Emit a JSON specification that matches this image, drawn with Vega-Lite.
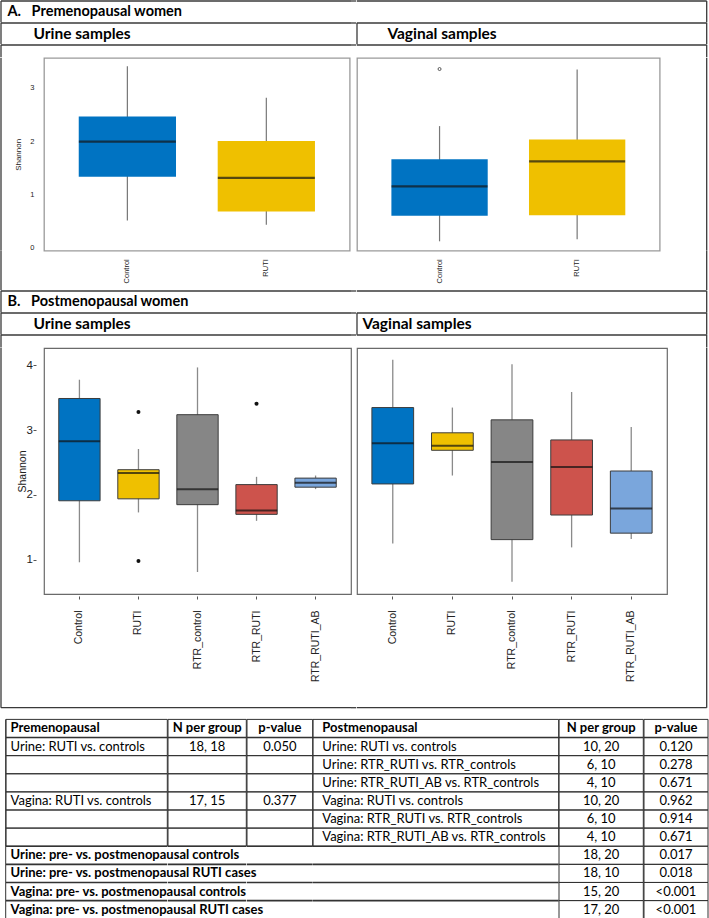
{
  "$schema": "https://vega.github.io/schema/vega-lite/v6.json",
  "padding": 0,
  "background": "white",
  "config": {
    "view": {"stroke": null},
    "text": {"font": "Lato", "color": "black"},
    "axis": {"grid": false}
  },
  "datasets": {
    "boxA_U": [
      {"g": "Control", "lo": 0.51, "q1": 1.33, "med": 1.99, "q3": 2.46, "hi": 3.40},
      {"g": "RUTI", "lo": 0.43, "q1": 0.68, "med": 1.31, "q3": 2.00, "hi": 2.81}
    ],
    "boxA_V": [
      {"g": "Control", "lo": 0.12, "q1": 0.60, "med": 1.15, "q3": 1.66, "hi": 2.28},
      {"g": "RUTI", "lo": 0.16, "q1": 0.61, "med": 1.62, "q3": 2.03, "hi": 3.34}
    ],
    "outA_V": [{"g": "Control", "v": 3.35}],
    "boxB_U": [
      {"g": "Control", "lo": 0.96, "q1": 1.91, "med": 2.83, "q3": 3.49, "hi": 3.78},
      {"g": "RUTI", "lo": 1.73, "q1": 1.94, "med": 2.34, "q3": 2.39, "hi": 2.71},
      {"g": "RTR_control", "lo": 0.81, "q1": 1.85, "med": 2.09, "q3": 3.24, "hi": 3.97},
      {"g": "RTR_RUTI", "lo": 1.60, "q1": 1.70, "med": 1.76, "q3": 2.16, "hi": 2.28},
      {"g": "RTR_RUTI_AB", "lo": 2.09, "q1": 2.12, "med": 2.19, "q3": 2.26, "hi": 2.30}
    ],
    "outB_U": [
      {"g": "RUTI", "v": 3.28},
      {"g": "RUTI", "v": 0.98},
      {"g": "RTR_RUTI", "v": 3.41}
    ],
    "boxB_V": [
      {"g": "Control", "lo": 1.25, "q1": 2.17, "med": 2.80, "q3": 3.35, "hi": 4.09},
      {"g": "RUTI", "lo": 2.30, "q1": 2.69, "med": 2.76, "q3": 2.96, "hi": 3.35},
      {"g": "RTR_control", "lo": 0.66, "q1": 1.31, "med": 2.51, "q3": 3.16, "hi": 4.02},
      {"g": "RTR_RUTI", "lo": 1.19, "q1": 1.69, "med": 2.43, "q3": 2.85, "hi": 3.59},
      {"g": "RTR_RUTI_AB", "lo": 1.32, "q1": 1.41, "med": 1.79, "q3": 2.37, "hi": 3.05}
    ],
    "tab": [
      {"r": 0, "pre": "Premenopausal", "nPre": "N per group", "pPre": "p-value", "post": "Postmenopausal", "nPost": "N per group", "pPost": "p-value"},
      {"r": 1, "pre": "Urine: RUTI vs. controls", "nPre": "18, 18", "pPre": "0.050", "post": "Urine: RUTI vs. controls", "nPost": "10, 20", "pPost": "0.120"},
      {"r": 2, "pre": "", "nPre": "", "pPre": "", "post": "Urine: RTR_RUTI vs. RTR_controls", "nPost": "6, 10", "pPost": "0.278"},
      {"r": 3, "pre": "", "nPre": "", "pPre": "", "post": "Urine: RTR_RUTI_AB vs. RTR_controls", "nPost": "4, 10", "pPost": "0.671"},
      {"r": 4, "pre": "Vagina: RUTI vs. controls", "nPre": "17, 15", "pPre": "0.377", "post": "Vagina: RUTI vs. controls", "nPost": "10, 20", "pPost": "0.962"},
      {"r": 5, "pre": "", "nPre": "", "pPre": "", "post": "Vagina: RTR_RUTI vs. RTR_controls", "nPost": "6, 10", "pPost": "0.914"},
      {"r": 6, "pre": "", "nPre": "", "pPre": "", "post": "Vagina: RTR_RUTI_AB vs. RTR_controls", "nPost": "4, 10", "pPost": "0.671"},
      {"r": 7, "pre": "Urine: pre- vs. postmenopausal controls", "nPre": "", "pPre": "", "post": "", "nPost": "18, 20", "pPost": "0.017"},
      {"r": 8, "pre": "Urine: pre- vs. postmenopausal RUTI cases", "nPre": "", "pPre": "", "post": "", "nPost": "18, 10", "pPost": "0.018"},
      {"r": 9, "pre": "Vagina: pre- vs. postmenopausal controls", "nPre": "", "pPre": "", "post": "", "nPost": "15, 20", "pPost": "<0.001"},
      {"r": 10, "pre": "Vagina: pre- vs. postmenopausal RUTI cases", "nPre": "", "pPre": "", "post": "", "nPost": "17, 20", "pPost": "<0.001"}
    ]
  },
  "spacing": 9.4,
  "vconcat": [
    {
      "columns": 5,
      "bounds": "flush",
      "align": "each",
      "spacing": 0,
      "concat": [
        {"width": 43, "height": 21.4, "data": {"values": [{"t": "A.\u00a0\u00a0\u00a0Premenopausal women"}]},
         "layer": [
           {"mark": {"type": "rule", "color": "#3a3a3a", "strokeWidth": 1.3}, "encoding": {"y": {"value": 0}}},
           {"mark": {"type": "rule", "color": "#3a3a3a", "strokeWidth": 1.3}, "encoding": {"x": {"value": 0}}},
           {"mark": {"type": "text", "align": "left", "fontWeight": "bold", "fontSize": 14.5}, "encoding": {"text": {"field": "t"}, "x": {"value": 6.5}}}
         ]},
        {"width": 307, "height": 21.4, "data": {"values": [{}]}, "mark": {"type": "rule", "color": "#3a3a3a", "strokeWidth": 1.3}, "encoding": {"y": {"value": 0}}},
        {"width": 5.3, "height": 21.4, "data": {"values": [{}]}, "mark": {"type": "rule", "color": "#3a3a3a", "strokeWidth": 1.3}, "encoding": {"y": {"value": 0}}},
        {"width": 310, "height": 21.4, "data": {"values": [{}]}, "mark": {"type": "rule", "color": "#3a3a3a", "strokeWidth": 1.3}, "encoding": {"y": {"value": 0}}},
        {"width": 39.7, "height": 21.4, "data": {"values": [{}]},
         "layer": [
           {"mark": {"type": "rule", "color": "#3a3a3a", "strokeWidth": 1.3}, "encoding": {"y": {"value": 0}}},
           {"mark": {"type": "rule", "color": "#3a3a3a", "strokeWidth": 1.3}, "encoding": {"x": {"value": "width"}}}
         ]},

        {"width": 43, "height": 21.3, "data": {"values": [{"t": "Urine samples"}]},
         "layer": [
           {"mark": {"type": "rule", "color": "#3a3a3a", "strokeWidth": 1.3}, "encoding": {"y": {"value": 0}}},
           {"mark": {"type": "rule", "color": "#3a3a3a", "strokeWidth": 1.3}, "encoding": {"x": {"value": 0}}},
           {"mark": {"type": "text", "align": "left", "fontWeight": "bold", "fontSize": 15.5}, "encoding": {"text": {"field": "t"}, "x": {"value": 32.5}}}
         ]},
        {"width": 307, "height": 21.3, "data": {"values": [{}]}, "mark": {"type": "rule", "color": "#3a3a3a", "strokeWidth": 1.3}, "encoding": {"y": {"value": 0}}},
        {"width": 5.3, "height": 21.3, "data": {"values": [{}]}, "mark": {"type": "rule", "color": "#3a3a3a", "strokeWidth": 1.3}, "encoding": {"y": {"value": 0}}},
        {"width": 310, "height": 21.3, "data": {"values": [{"t": "Vaginal samples"}]},
         "layer": [
           {"mark": {"type": "rule", "color": "#3a3a3a", "strokeWidth": 1.3}, "encoding": {"y": {"value": 0}}},
           {"mark": {"type": "rule", "color": "#3a3a3a", "strokeWidth": 1.3}, "encoding": {"x": {"value": 0}}},
           {"mark": {"type": "text", "align": "left", "fontWeight": "bold", "fontSize": 15.5}, "encoding": {"text": {"field": "t"}, "x": {"value": 30.4}}}
         ]},
        {"width": 39.7, "height": 21.3, "data": {"values": [{}]},
         "layer": [
           {"mark": {"type": "rule", "color": "#3a3a3a", "strokeWidth": 1.3}, "encoding": {"y": {"value": 0}}},
           {"mark": {"type": "rule", "color": "#3a3a3a", "strokeWidth": 1.3}, "encoding": {"x": {"value": "width"}}}
         ]},

        {"width": 43, "height": 12.3, "data": {"values": [{}]},
         "layer": [
           {"mark": {"type": "rule", "color": "#3a3a3a", "strokeWidth": 1.3}, "encoding": {"y": {"value": 0}}},
           {"mark": {"type": "rule", "color": "#3a3a3a", "strokeWidth": 1.3}, "encoding": {"x": {"value": 0}}}
         ]},
        {"width": 307, "height": 12.3, "data": {"values": [{}]}, "mark": {"type": "rule", "color": "#3a3a3a", "strokeWidth": 1.3}, "encoding": {"y": {"value": 0}}},
        {"width": 5.3, "height": 12.3, "data": {"values": [{}]}, "mark": {"type": "rule", "color": "#3a3a3a", "strokeWidth": 1.3}, "encoding": {"y": {"value": 0}}},
        {"width": 310, "height": 12.3, "data": {"values": [{}]}, "mark": {"type": "rule", "color": "#3a3a3a", "strokeWidth": 1.3}, "encoding": {"y": {"value": 0}}},
        {"width": 39.7, "height": 12.3, "data": {"values": [{}]},
         "layer": [
           {"mark": {"type": "rule", "color": "#3a3a3a", "strokeWidth": 1.3}, "encoding": {"y": {"value": 0}}},
           {"mark": {"type": "rule", "color": "#3a3a3a", "strokeWidth": 1.3}, "encoding": {"x": {"value": "width"}}}
         ]},

        {"width": 43, "height": 192.7, "data": {"values": [{}]}, "mark": {"type": "rule", "color": "#3a3a3a", "strokeWidth": 1.3}, "encoding": {"x": {"value": 0}}},
        {
          "width": 305.7, "height": 192.7,
          "view": {"stroke": "#9a9a9a", "strokeWidth": 1.3},
          "data": {"name": "boxA_U"},
          "encoding": {
            "x": {"field": "g", "type": "nominal", "sort": null,
              "scale": {"domain": ["Control", "RUTI"], "paddingInner": 0.3, "paddingOuter": 0.25},
              "axis": {"title": null, "labelAngle": -90, "domain": false, "ticks": false, "tickSize": 0, "labelPadding": 8, "labelFontSize": 7.5, "labelFont": "Liberation Sans", "labelColor": "#222"}}
          },
          "layer": [
            {"mark": {"type": "rule", "color": "#777777", "strokeWidth": 1.2},
             "encoding": {"y": {"field": "lo", "type": "quantitative", "title": "Shannon", "scale": {"domain": [-0.056, 3.557], "nice": false, "zero": false},
               "axis": {"values": [0, 1, 2, 3], "domain": false, "ticks": false, "tickSize": 0, "labelPadding": 10, "labelFontSize": 7.5, "titleFontSize": 8, "titlePadding": 7, "labelFont": "Liberation Sans", "titleFont": "Liberation Sans", "titleFontWeight": "normal", "labelColor": "#222", "titleColor": "#222"}},
               "y2": {"field": "hi"}}},
            {"mark": {"type": "bar"},
             "encoding": {"y": {"field": "q1", "type": "quantitative", "title": "Shannon", "scale": {"domain": [-0.056, 3.557], "nice": false, "zero": false},
               "axis": {"values": [0, 1, 2, 3], "domain": false, "ticks": false, "tickSize": 0, "labelPadding": 10, "labelFontSize": 7.5, "titleFontSize": 8, "titlePadding": 7, "labelFont": "Liberation Sans", "titleFont": "Liberation Sans", "titleFontWeight": "normal", "labelColor": "#222", "titleColor": "#222"}},
               "y2": {"field": "q3"},
               "fill": {"field": "g", "type": "nominal", "legend": null, "scale": {"domain": ["Control", "RUTI", "RTR_control", "RTR_RUTI", "RTR_RUTI_AB"], "range": ["#0073C2", "#EFC000", "#868686", "#CD534C", "#7AA6DC"]}}}},
            {"mark": {"type": "tick", "color": "#151515", "thickness": 2.3, "size": 97},
             "encoding": {"y": {"field": "med", "type": "quantitative", "title": "Shannon", "scale": {"domain": [-0.056, 3.557], "nice": false, "zero": false},
               "axis": {"values": [0, 1, 2, 3], "domain": false, "ticks": false, "tickSize": 0, "labelPadding": 10, "labelFontSize": 7.5, "titleFontSize": 8, "titlePadding": 7, "labelFont": "Liberation Sans", "titleFont": "Liberation Sans", "titleFontWeight": "normal", "labelColor": "#222", "titleColor": "#222"}}}}
          ]
        },
        {"width": 0.01, "height": 0.01, "data": {"values": []}, "mark": "point"},
        {
          "width": 302.7, "height": 192.7,
          "view": {"stroke": "#9a9a9a", "strokeWidth": 1.3},
          "data": {"name": "boxA_V"},
          "encoding": {
            "x": {"field": "g", "type": "nominal", "sort": null,
              "scale": {"domain": ["Control", "RUTI"], "paddingInner": 0.3, "paddingOuter": 0.25},
              "axis": {"title": null, "labelAngle": -90, "domain": false, "ticks": false, "tickSize": 0, "labelPadding": 8, "labelFontSize": 7.5, "labelFont": "Liberation Sans", "labelColor": "#222"}}
          },
          "layer": [
            {"mark": {"type": "rule", "color": "#777777", "strokeWidth": 1.2},
             "encoding": {"y": {"field": "lo", "type": "quantitative", "scale": {"domain": [-0.056, 3.557], "nice": false, "zero": false}, "axis": null},
               "y2": {"field": "hi"}}},
            {"mark": {"type": "bar"},
             "encoding": {"y": {"field": "q1", "type": "quantitative", "scale": {"domain": [-0.056, 3.557], "nice": false, "zero": false}, "axis": null},
               "y2": {"field": "q3"},
               "fill": {"field": "g", "type": "nominal", "legend": null, "scale": {"domain": ["Control", "RUTI", "RTR_control", "RTR_RUTI", "RTR_RUTI_AB"], "range": ["#0073C2", "#EFC000", "#868686", "#CD534C", "#7AA6DC"]}}}},
            {"mark": {"type": "tick", "color": "#151515", "thickness": 2.3, "size": 96},
             "encoding": {"y": {"field": "med", "type": "quantitative", "scale": {"domain": [-0.056, 3.557], "nice": false, "zero": false}, "axis": null}}},
            {"data": {"name": "outA_V"},
             "mark": {"type": "point", "shape": "circle", "filled": false, "color": "#333", "size": 9, "strokeWidth": 0.8, "opacity": 1},
             "encoding": {"y": {"field": "v", "type": "quantitative", "scale": {"domain": [-0.056, 3.557], "nice": false, "zero": false}, "axis": null}}}
          ]
        },
        {"width": 39.7, "height": 192.7, "data": {"values": [{}]}, "mark": {"type": "rule", "color": "#3a3a3a", "strokeWidth": 1.3}, "encoding": {"x": {"value": "width"}}},

        {"width": 43, "height": 39.3, "data": {"values": [{}]}, "mark": {"type": "rule", "color": "#3a3a3a", "strokeWidth": 1.3}, "encoding": {"x": {"value": 0}}},
        {"width": 0.01, "height": 0.01, "data": {"values": []}, "mark": "point"},
        {"width": 0.01, "height": 0.01, "data": {"values": []}, "mark": "point"},
        {"width": 0.01, "height": 0.01, "data": {"values": []}, "mark": "point"},
        {"width": 39.7, "height": 39.3, "data": {"values": [{}]}, "mark": {"type": "rule", "color": "#3a3a3a", "strokeWidth": 1.3}, "encoding": {"x": {"value": "width"}}},

        {"width": 43, "height": 21.7, "data": {"values": [{"t": "B.\u00a0\u00a0\u00a0Postmenopausal women"}]},
         "layer": [
           {"mark": {"type": "rule", "color": "#3a3a3a", "strokeWidth": 1.3}, "encoding": {"y": {"value": 0}}},
           {"mark": {"type": "rule", "color": "#3a3a3a", "strokeWidth": 1.3}, "encoding": {"x": {"value": 0}}},
           {"mark": {"type": "text", "align": "left", "fontWeight": "bold", "fontSize": 14.5}, "encoding": {"text": {"field": "t"}, "x": {"value": 6.5}}}
         ]},
        {"width": 307, "height": 21.7, "data": {"values": [{}]}, "mark": {"type": "rule", "color": "#3a3a3a", "strokeWidth": 1.3}, "encoding": {"y": {"value": 0}}},
        {"width": 5.3, "height": 21.7, "data": {"values": [{}]}, "mark": {"type": "rule", "color": "#3a3a3a", "strokeWidth": 1.3}, "encoding": {"y": {"value": 0}}},
        {"width": 310, "height": 21.7, "data": {"values": [{}]}, "mark": {"type": "rule", "color": "#3a3a3a", "strokeWidth": 1.3}, "encoding": {"y": {"value": 0}}},
        {"width": 39.7, "height": 21.7, "data": {"values": [{}]},
         "layer": [
           {"mark": {"type": "rule", "color": "#3a3a3a", "strokeWidth": 1.3}, "encoding": {"y": {"value": 0}}},
           {"mark": {"type": "rule", "color": "#3a3a3a", "strokeWidth": 1.3}, "encoding": {"x": {"value": "width"}}}
         ]},

        {"width": 43, "height": 21.7, "data": {"values": [{"t": "Urine samples"}]},
         "layer": [
           {"mark": {"type": "rule", "color": "#3a3a3a", "strokeWidth": 1.3}, "encoding": {"y": {"value": 0}}},
           {"mark": {"type": "rule", "color": "#3a3a3a", "strokeWidth": 1.3}, "encoding": {"x": {"value": 0}}},
           {"mark": {"type": "text", "align": "left", "fontWeight": "bold", "fontSize": 15.5}, "encoding": {"text": {"field": "t"}, "x": {"value": 32.5}}}
         ]},
        {"width": 307, "height": 21.7, "data": {"values": [{}]}, "mark": {"type": "rule", "color": "#3a3a3a", "strokeWidth": 1.3}, "encoding": {"y": {"value": 0}}},
        {"width": 5.3, "height": 21.7, "data": {"values": [{}]}, "mark": {"type": "rule", "color": "#3a3a3a", "strokeWidth": 1.3}, "encoding": {"y": {"value": 0}}},
        {"width": 310, "height": 21.7, "data": {"values": [{"t": "Vaginal samples"}]},
         "layer": [
           {"mark": {"type": "rule", "color": "#3a3a3a", "strokeWidth": 1.3}, "encoding": {"y": {"value": 0}}},
           {"mark": {"type": "rule", "color": "#3a3a3a", "strokeWidth": 1.3}, "encoding": {"x": {"value": 0}}},
           {"mark": {"type": "text", "align": "left", "fontWeight": "bold", "fontSize": 15.5}, "encoding": {"text": {"field": "t"}, "x": {"value": 5.4}}}
         ]},
        {"width": 39.7, "height": 21.7, "data": {"values": [{}]},
         "layer": [
           {"mark": {"type": "rule", "color": "#3a3a3a", "strokeWidth": 1.3}, "encoding": {"y": {"value": 0}}},
           {"mark": {"type": "rule", "color": "#3a3a3a", "strokeWidth": 1.3}, "encoding": {"x": {"value": "width"}}}
         ]},

        {"width": 43, "height": 12.6, "data": {"values": [{}]},
         "layer": [
           {"mark": {"type": "rule", "color": "#3a3a3a", "strokeWidth": 1.3}, "encoding": {"y": {"value": 0}}},
           {"mark": {"type": "rule", "color": "#3a3a3a", "strokeWidth": 1.3}, "encoding": {"x": {"value": 0}}}
         ]},
        {"width": 307, "height": 12.6, "data": {"values": [{}]}, "mark": {"type": "rule", "color": "#3a3a3a", "strokeWidth": 1.3}, "encoding": {"y": {"value": 0}}},
        {"width": 5.3, "height": 12.6, "data": {"values": [{}]}, "mark": {"type": "rule", "color": "#3a3a3a", "strokeWidth": 1.3}, "encoding": {"y": {"value": 0}}},
        {"width": 310, "height": 12.6, "data": {"values": [{}]}, "mark": {"type": "rule", "color": "#3a3a3a", "strokeWidth": 1.3}, "encoding": {"y": {"value": 0}}},
        {"width": 39.7, "height": 12.6, "data": {"values": [{}]},
         "layer": [
           {"mark": {"type": "rule", "color": "#3a3a3a", "strokeWidth": 1.3}, "encoding": {"y": {"value": 0}}},
           {"mark": {"type": "rule", "color": "#3a3a3a", "strokeWidth": 1.3}, "encoding": {"x": {"value": "width"}}}
         ]},

        {"width": 43, "height": 246, "data": {"values": [{}]}, "mark": {"type": "rule", "color": "#3a3a3a", "strokeWidth": 1.3}, "encoding": {"x": {"value": 0}}},
        {
          "width": 307, "height": 246,
          "view": {"stroke": "#6a6a6a", "strokeWidth": 1.2},
          "data": {"name": "boxB_U"},
          "encoding": {
            "x": {"field": "g", "type": "nominal", "sort": null,
              "scale": {"domain": ["Control", "RUTI", "RTR_control", "RTR_RUTI", "RTR_RUTI_AB"], "paddingInner": 0.3, "paddingOuter": 0.25},
              "axis": {"title": null, "labelAngle": -90, "domain": false, "ticks": true, "tickSize": 3, "tickColor": "#555", "offset": 2, "labelPadding": 11, "labelFontSize": 10.5, "labelFont": "Liberation Sans", "labelColor": "#222"}}
          },
          "layer": [
            {"mark": {"type": "rule", "color": "#8a8a8a", "strokeWidth": 1.3},
             "encoding": {"y": {"field": "lo", "type": "quantitative", "title": "Shannon", "scale": {"domain": [0.47, 4.27], "nice": false, "zero": false},
               "axis": {"values": [1, 2, 3, 4], "domain": false, "ticks": true, "tickSize": 3, "tickColor": "#555", "offset": 8, "labelPadding": 0.5, "labelFontSize": 11.5, "titleFontSize": 10.5, "titlePadding": -1, "labelFont": "Liberation Sans", "titleFont": "Liberation Sans", "titleFontWeight": "normal", "labelColor": "#222", "titleColor": "#222"}},
               "y2": {"field": "hi"}}},
            {"mark": {"type": "bar", "stroke": "#3c3c3c", "strokeWidth": 1},
             "encoding": {"y": {"field": "q1", "type": "quantitative", "title": "Shannon", "scale": {"domain": [0.47, 4.27], "nice": false, "zero": false},
               "axis": {"values": [1, 2, 3, 4], "domain": false, "ticks": true, "tickSize": 3, "tickColor": "#555", "offset": 8, "labelPadding": 0.5, "labelFontSize": 11.5, "titleFontSize": 10.5, "titlePadding": -1, "labelFont": "Liberation Sans", "titleFont": "Liberation Sans", "titleFontWeight": "normal", "labelColor": "#222", "titleColor": "#222"}},
               "y2": {"field": "q3"},
               "fill": {"field": "g", "type": "nominal", "legend": null, "scale": {"domain": ["Control", "RUTI", "RTR_control", "RTR_RUTI", "RTR_RUTI_AB"], "range": ["#0073C2", "#EFC000", "#868686", "#CD534C", "#7AA6DC"]}}}},
            {"mark": {"type": "tick", "color": "#111", "thickness": 2, "size": 41.3},
             "encoding": {"y": {"field": "med", "type": "quantitative", "title": "Shannon", "scale": {"domain": [0.47, 4.27], "nice": false, "zero": false},
               "axis": {"values": [1, 2, 3, 4], "domain": false, "ticks": true, "tickSize": 3, "tickColor": "#555", "offset": 8, "labelPadding": 0.5, "labelFontSize": 11.5, "titleFontSize": 10.5, "titlePadding": -1, "labelFont": "Liberation Sans", "titleFont": "Liberation Sans", "titleFontWeight": "normal", "labelColor": "#222", "titleColor": "#222"}}}},
            {"data": {"name": "outB_U"},
             "mark": {"type": "point", "shape": "circle", "filled": true, "color": "#111", "size": 16, "opacity": 1},
             "encoding": {"y": {"field": "v", "type": "quantitative", "title": "Shannon", "scale": {"domain": [0.47, 4.27], "nice": false, "zero": false},
               "axis": {"values": [1, 2, 3, 4], "domain": false, "ticks": true, "tickSize": 3, "tickColor": "#555", "offset": 8, "labelPadding": 0.5, "labelFontSize": 11.5, "titleFontSize": 10.5, "titlePadding": -1, "labelFont": "Liberation Sans", "titleFont": "Liberation Sans", "titleFontWeight": "normal", "labelColor": "#222", "titleColor": "#222"}}}}
          ]
        },
        {"width": 0.01, "height": 0.01, "data": {"values": []}, "mark": "point"},
        {
          "width": 310, "height": 246,
          "view": {"stroke": "#6a6a6a", "strokeWidth": 1.2},
          "data": {"name": "boxB_V"},
          "encoding": {
            "x": {"field": "g", "type": "nominal", "sort": null,
              "scale": {"domain": ["Control", "RUTI", "RTR_control", "RTR_RUTI", "RTR_RUTI_AB"], "paddingInner": 0.3, "paddingOuter": 0.25},
              "axis": {"title": null, "labelAngle": -90, "domain": false, "ticks": true, "tickSize": 3, "tickColor": "#555", "offset": 2, "labelPadding": 11, "labelFontSize": 10.5, "labelFont": "Liberation Sans", "labelColor": "#222"}}
          },
          "layer": [
            {"mark": {"type": "rule", "color": "#8a8a8a", "strokeWidth": 1.3},
             "encoding": {"y": {"field": "lo", "type": "quantitative", "scale": {"domain": [0.47, 4.27], "nice": false, "zero": false}, "axis": null},
               "y2": {"field": "hi"}}},
            {"mark": {"type": "bar", "stroke": "#3c3c3c", "strokeWidth": 1},
             "encoding": {"y": {"field": "q1", "type": "quantitative", "scale": {"domain": [0.47, 4.27], "nice": false, "zero": false}, "axis": null},
               "y2": {"field": "q3"},
               "fill": {"field": "g", "type": "nominal", "legend": null, "scale": {"domain": ["Control", "RUTI", "RTR_control", "RTR_RUTI", "RTR_RUTI_AB"], "range": ["#0073C2", "#EFC000", "#868686", "#CD534C", "#7AA6DC"]}}}},
            {"mark": {"type": "tick", "color": "#111", "thickness": 2, "size": 41.7},
             "encoding": {"y": {"field": "med", "type": "quantitative", "scale": {"domain": [0.47, 4.27], "nice": false, "zero": false}, "axis": null}}}
          ]
        },
        {"width": 39.7, "height": 246, "data": {"values": [{}]}, "mark": {"type": "rule", "color": "#3a3a3a", "strokeWidth": 1.3}, "encoding": {"x": {"value": "width"}}},

        {"width": 43, "height": 113.7, "data": {"values": [{}]},
         "layer": [
           {"mark": {"type": "rule", "color": "#3a3a3a", "strokeWidth": 1.3}, "encoding": {"x": {"value": 0}}},
           {"mark": {"type": "rule", "color": "#3a3a3a", "strokeWidth": 1.3}, "encoding": {"y": {"value": "height"}}}
         ]},
        {"width": 307, "height": 113.7, "data": {"values": [{}]}, "mark": {"type": "rule", "color": "#3a3a3a", "strokeWidth": 1.3}, "encoding": {"y": {"value": "height"}}},
        {"width": 5.3, "height": 113.7, "data": {"values": [{}]}, "mark": {"type": "rule", "color": "#3a3a3a", "strokeWidth": 1.3}, "encoding": {"y": {"value": "height"}}},
        {"width": 310, "height": 113.7, "data": {"values": [{}]}, "mark": {"type": "rule", "color": "#3a3a3a", "strokeWidth": 1.3}, "encoding": {"y": {"value": "height"}}},
        {"width": 39.7, "height": 113.7, "data": {"values": [{}]},
         "layer": [
           {"mark": {"type": "rule", "color": "#3a3a3a", "strokeWidth": 1.3}, "encoding": {"x": {"value": "width"}}},
           {"mark": {"type": "rule", "color": "#3a3a3a", "strokeWidth": 1.3}, "encoding": {"y": {"value": "height"}}}
         ]}
      ]
    },
    {
      "bounds": "flush",
      "spacing": 0,
      "hconcat": [
        {"width": 4.7, "height": 199.3, "data": {"values": [{}]}, "mark": {"type": "rule", "color": "#333", "strokeWidth": 1}, "encoding": {"x": {"value": "width"}}},
        {
          "width": 161.3, "height": 199.3, "data": {"name": "tab"},
          "encoding": {"y": {"field": "r", "type": "ordinal", "axis": null, "scale": {"paddingInner": 0, "paddingOuter": 0}}},
          "layer": [
            {"transform": [{"filter": "datum.r <= 6"}], "mark": {"type": "rect", "filled": false, "stroke": "#333", "strokeWidth": 1}},
            {"transform": [{"filter": "datum.r >= 7 || datum.r === 1"}], "mark": {"type": "rule", "color": "#333", "strokeWidth": 1.6}, "encoding": {"y": {"field": "r", "type": "ordinal", "bandPosition": 0}}},
            {"transform": [{"filter": "datum.r >= 1 && datum.r <= 6"}], "mark": {"type": "text", "align": "left", "fontSize": 13},
             "encoding": {"text": {"field": "pre"}, "x": {"value": 4.6}}},
            {"transform": [{"filter": "datum.r === 0 || datum.r >= 7"}], "mark": {"type": "text", "align": "left", "fontSize": 13, "fontWeight": "bold"},
             "encoding": {"text": {"field": "pre"}, "x": {"value": 4.6}}}
          ]
        },
        {
          "width": 78.3, "height": 199.3, "data": {"name": "tab"},
          "encoding": {"y": {"field": "r", "type": "ordinal", "axis": null, "scale": {"paddingInner": 0, "paddingOuter": 0}}},
          "layer": [
            {"transform": [{"filter": "datum.r <= 6"}], "mark": {"type": "rect", "filled": false, "stroke": "#333", "strokeWidth": 1}},
            {"transform": [{"filter": "datum.r >= 7 || datum.r === 1"}], "mark": {"type": "rule", "color": "#333", "strokeWidth": 1.6}, "encoding": {"y": {"field": "r", "type": "ordinal", "bandPosition": 0}}},
            {"transform": [{"filter": "datum.r >= 1"}], "mark": {"type": "text", "align": "center", "fontSize": 13},
             "encoding": {"text": {"field": "nPre"}}},
            {"transform": [{"filter": "datum.r === 0"}], "mark": {"type": "text", "align": "center", "fontSize": 13, "fontWeight": "bold"},
             "encoding": {"text": {"field": "nPre"}}}
          ]
        },
        {
          "width": 65.7, "height": 199.3, "data": {"name": "tab"},
          "encoding": {"y": {"field": "r", "type": "ordinal", "axis": null, "scale": {"paddingInner": 0, "paddingOuter": 0}}},
          "layer": [
            {"transform": [{"filter": "datum.r <= 6"}], "mark": {"type": "rect", "filled": false, "stroke": "#333", "strokeWidth": 1}},
            {"transform": [{"filter": "datum.r >= 7 || datum.r === 1"}], "mark": {"type": "rule", "color": "#333", "strokeWidth": 1.6}, "encoding": {"y": {"field": "r", "type": "ordinal", "bandPosition": 0}}},
            {"transform": [{"filter": "datum.r >= 1"}], "mark": {"type": "text", "align": "center", "fontSize": 13},
             "encoding": {"text": {"field": "pPre"}}},
            {"transform": [{"filter": "datum.r === 0"}], "mark": {"type": "text", "align": "center", "fontSize": 13, "fontWeight": "bold"},
             "encoding": {"text": {"field": "pPre"}}}
          ]
        },
        {
          "width": 245.7, "height": 199.3, "data": {"name": "tab"},
          "encoding": {"y": {"field": "r", "type": "ordinal", "axis": null, "scale": {"paddingInner": 0, "paddingOuter": 0}}},
          "layer": [
            {"transform": [{"filter": "datum.r <= 6"}], "mark": {"type": "rect", "filled": false, "stroke": "#333", "strokeWidth": 1}},
            {"transform": [{"filter": "datum.r >= 7 || datum.r === 1"}], "mark": {"type": "rule", "color": "#333", "strokeWidth": 1.6}, "encoding": {"y": {"field": "r", "type": "ordinal", "bandPosition": 0}}},
            {"transform": [{"filter": "datum.r >= 1"}], "mark": {"type": "text", "align": "left", "fontSize": 13},
             "encoding": {"text": {"field": "post"}, "x": {"value": 9.3}}},
            {"transform": [{"filter": "datum.r === 0"}], "mark": {"type": "text", "align": "left", "fontSize": 13, "fontWeight": "bold"},
             "encoding": {"text": {"field": "post"}, "x": {"value": 9.3}}}
          ]
        },
        {
          "width": 84.3, "height": 199.3, "data": {"name": "tab"},
          "encoding": {"y": {"field": "r", "type": "ordinal", "axis": null, "scale": {"paddingInner": 0, "paddingOuter": 0}}},
          "layer": [
            {"mark": {"type": "rect", "filled": false, "stroke": "#333", "strokeWidth": 1}},
            {"transform": [{"filter": "datum.r === 1"}], "mark": {"type": "rule", "color": "#333", "strokeWidth": 1.6}, "encoding": {"y": {"field": "r", "type": "ordinal", "bandPosition": 0}}},
            {"transform": [{"filter": "datum.r >= 1"}], "mark": {"type": "text", "align": "center", "fontSize": 13},
             "encoding": {"text": {"field": "nPost"}}},
            {"transform": [{"filter": "datum.r === 0"}], "mark": {"type": "text", "align": "center", "fontSize": 13, "fontWeight": "bold"},
             "encoding": {"text": {"field": "nPost"}}}
          ]
        },
        {
          "width": 64, "height": 199.3, "data": {"name": "tab"},
          "encoding": {"y": {"field": "r", "type": "ordinal", "axis": null, "scale": {"paddingInner": 0, "paddingOuter": 0}}},
          "layer": [
            {"mark": {"type": "rect", "filled": false, "stroke": "#333", "strokeWidth": 1}},
            {"transform": [{"filter": "datum.r === 1"}], "mark": {"type": "rule", "color": "#333", "strokeWidth": 1.6}, "encoding": {"y": {"field": "r", "type": "ordinal", "bandPosition": 0}}},
            {"transform": [{"filter": "datum.r >= 1"}], "mark": {"type": "text", "align": "center", "fontSize": 13},
             "encoding": {"text": {"field": "pPost"}}},
            {"transform": [{"filter": "datum.r === 0"}], "mark": {"type": "text", "align": "center", "fontSize": 13, "fontWeight": "bold"},
             "encoding": {"text": {"field": "pPost"}}}
          ]
        }
      ]
    }
  ]
}
